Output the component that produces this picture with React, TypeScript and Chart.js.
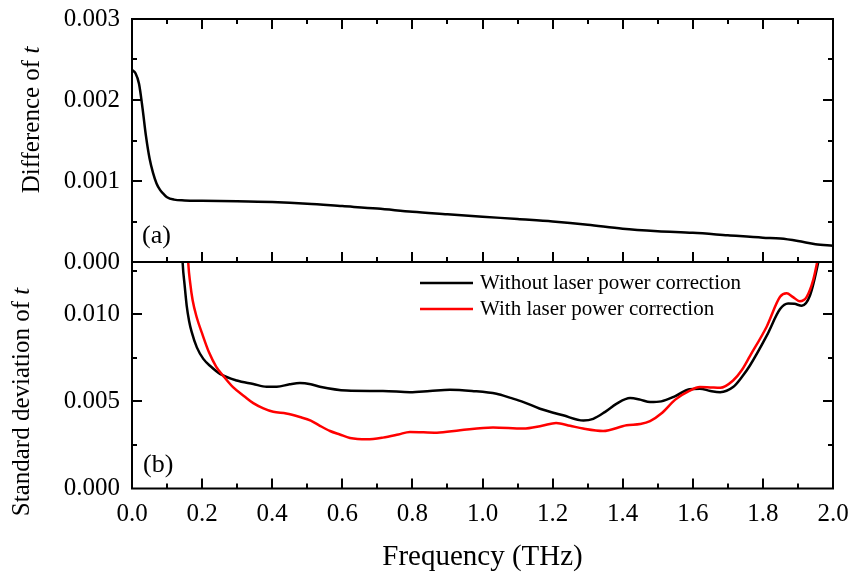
import React, { useEffect, useRef } from 'react';
import { Chart, registerables } from 'chart.js';

Chart.register(...registerables);

const FONT = '"Liberation Serif", "Times New Roman", serif';

// Panel (a): difference of t
const diffFreq = [0.0, 0.01, 0.02, 0.03, 0.04, 0.05, 0.06, 0.07, 0.08, 0.09, 0.10, 0.12, 0.15, 0.2, 0.3, 0.4, 0.5, 0.6, 0.7, 0.8, 0.9, 1.0, 1.1, 1.2, 1.3, 1.4, 1.5, 1.6, 1.7, 1.8, 1.85, 1.9, 1.95, 2.0];
const diffValues = [0.00237, 0.00233, 0.0022, 0.0019, 0.00155, 0.00128, 0.0011, 0.00097, 0.00089, 0.00084, 0.0008, 0.00077, 0.00076, 0.000755, 0.00075, 0.00074, 0.00072, 0.00069, 0.00066, 0.00062, 0.00059, 0.00056, 0.00053, 0.0005, 0.00046, 0.00041, 0.00038, 0.00036, 0.00033, 0.0003, 0.00029, 0.00026, 0.00022, 0.0002];

// Panel (b): standard deviation of t
const withoutFreq = [0.143, 0.1447, 0.15, 0.156, 0.163, 0.17, 0.185, 0.2035, 0.225, 0.251, 0.2987, 0.346, 0.384, 0.413, 0.45, 0.479, 0.51, 0.536, 0.6125, 0.679, 0.716, 0.793, 0.85, 0.907, 0.97, 1.04, 1.08, 1.117, 1.164, 1.23, 1.288, 1.316, 1.35, 1.383, 1.421, 1.45, 1.478, 1.51, 1.55, 1.59, 1.62, 1.65, 1.678, 1.715, 1.74, 1.763, 1.811, 1.849, 1.872, 1.89, 1.911, 1.934, 1.958, 1.965];
const withoutValues = [0.0138, 0.0129, 0.0117, 0.0105, 0.0096, 0.009, 0.0081, 0.00744, 0.007, 0.00658, 0.0062, 0.006, 0.00584, 0.00584, 0.00598, 0.00605, 0.00598, 0.00584, 0.00562, 0.0056, 0.0056, 0.00553, 0.0056, 0.00567, 0.0056, 0.00544, 0.0052, 0.00496, 0.00458, 0.0042, 0.0039, 0.004, 0.0044, 0.00487, 0.00519, 0.0051, 0.00496, 0.005, 0.0053, 0.0057, 0.00573, 0.0056, 0.00553, 0.00582, 0.0064, 0.00706, 0.00877, 0.0103, 0.01062, 0.0106, 0.01049, 0.01106, 0.013, 0.0138];

const withFreq = [0.158, 0.1607, 0.166, 0.173, 0.185, 0.2, 0.22, 0.24, 0.261, 0.289, 0.32, 0.346, 0.375, 0.403, 0.44, 0.479, 0.51, 0.536, 0.565, 0.593, 0.622, 0.67, 0.716, 0.76, 0.793, 0.87, 0.936, 1.03, 1.116, 1.17, 1.21, 1.25, 1.287, 1.344, 1.411, 1.45, 1.478, 1.51, 1.55, 1.59, 1.62, 1.65, 1.678, 1.715, 1.74, 1.763, 1.811, 1.849, 1.868, 1.885, 1.905, 1.925, 1.944, 1.958, 1.965];
const withValues = [0.0142, 0.0129, 0.0118, 0.0108, 0.0098, 0.0089, 0.0078, 0.007, 0.00645, 0.0058, 0.0053, 0.0049, 0.0046, 0.0044, 0.0043, 0.0041, 0.0039, 0.0036, 0.0033, 0.0031, 0.0029, 0.00282, 0.00292, 0.0031, 0.00325, 0.0032, 0.00334, 0.0035, 0.00344, 0.0036, 0.00376, 0.0036, 0.00344, 0.0033, 0.00363, 0.0037, 0.00386, 0.0043, 0.0051, 0.0056, 0.00582, 0.0058, 0.00578, 0.0062, 0.0068, 0.0076, 0.0093, 0.011, 0.0112, 0.011, 0.01075, 0.011, 0.012, 0.0133, 0.014];

// Tick labels
const xTickLabels = ['0.0', '0.2', '0.4', '0.6', '0.8', '1.0', '1.2', '1.4', '1.6', '1.8', '2.0'];
const diffTickLabels = ['0.000', '0.001', '0.002', '0.003'];
const sdTickLabels = ['0.000', '0.005', '0.010'];

const seriesNames = ['Without laser power correction', 'With laser power correction'];
const seriesColors = ['#000000', '#ff0000'];

const isMultiple = (v: number, step: number) => Math.abs(v / step - Math.round(v / step)) < 1e-6;

const framePlugin = {
  id: 'frameTicks',
  afterDatasetsDraw(chart: any) {
    const ctx = chart.ctx;
    const xs = chart.scales.x;
    const panels = [
      { s: chart.scales.yA, minor: 0.0005, major: 0.001, topTicks: true },
      { s: chart.scales.yB, minor: 0.0025, major: 0.005, topTicks: false },
    ];
    ctx.save();
    ctx.strokeStyle = '#000';
    ctx.lineWidth = 2;
    for (const p of panels) {
      const s = p.s;
      ctx.strokeRect(xs.left, s.top, xs.right - xs.left, s.bottom - s.top);
      ctx.beginPath();
      for (let k = 1; k * p.minor < s.max - 1e-9; k++) {
        const v = k * p.minor;
        const py = Math.round(s.getPixelForValue(v));
        const len = isMultiple(v, p.major) ? 10 : 5;
        ctx.moveTo(xs.left, py);
        ctx.lineTo(xs.left + len, py);
        ctx.moveTo(xs.right, py);
        ctx.lineTo(xs.right - len, py);
      }
      for (let k = 1; k < 20; k++) {
        const f = k * 0.1;
        const px = Math.round(xs.getPixelForValue(f));
        const len = isMultiple(f, 0.2) ? 10 : 5;
        ctx.moveTo(px, s.bottom);
        ctx.lineTo(px, s.bottom - len);
        if (p.topTicks) {
          ctx.moveTo(px, s.top);
          ctx.lineTo(px, s.top + len);
        }
      }
      ctx.stroke();
    }
    ctx.restore();
  },
  afterDraw(chart: any) {
    const ctx = chart.ctx;
    const xs = chart.scales.x;
    const yA = chart.scales.yA;
    const yB = chart.scales.yB;
    const left = xs.left;
    ctx.save();
    ctx.fillStyle = '#000';

    const drawVertical = (cx: number, cy: number, main: string, ital: string, size: number) => {
      ctx.save();
      ctx.translate(cx, cy);
      ctx.rotate(-Math.PI / 2);
      ctx.textBaseline = 'middle';
      ctx.textAlign = 'left';
      ctx.font = `${size}px ${FONT}`;
      const w1 = ctx.measureText(main).width;
      ctx.font = `italic ${size}px ${FONT}`;
      const w2 = ctx.measureText(ital).width;
      const start = -(w1 + w2) / 2;
      ctx.font = `${size}px ${FONT}`;
      ctx.fillText(main, start, 0);
      ctx.font = `italic ${size}px ${FONT}`;
      ctx.fillText(ital, start + w1, 0);
      ctx.restore();
    };
    drawVertical(left - 100, yA.top + 101, 'Difference of ', 't', 25);
    drawVertical(left - 110, yB.top + 140, 'Standard deviation of ', 't', 25);

    // x title
    ctx.font = `29px ${FONT}`;
    ctx.textAlign = 'center';
    ctx.textBaseline = 'middle';
    ctx.fillText('Frequency (THz)', (xs.left + xs.right) / 2, yB.bottom + 69);

    // panel labels
    ctx.font = `26px ${FONT}`;
    ctx.textAlign = 'left';
    ctx.fillText('(a)', left + 10, yA.bottom - 26);
    ctx.fillText('(b)', left + 11, yB.bottom - 23);

    // legend
    ctx.font = `21px ${FONT}`;
    ctx.lineWidth = 2.5;
    seriesNames.forEach((name, i) => {
      const ly = yB.top + 21 + i * 26;
      ctx.strokeStyle = seriesColors[i];
      ctx.beginPath();
      ctx.moveTo(left + 288, ly);
      ctx.lineTo(left + 341, ly);
      ctx.stroke();
      ctx.fillText(name, left + 348, ly);
    });
    ctx.restore();
  },
};

const fitY = (s: any) => {
  s.width = 132;
  s.paddingTop = 0;
  s.paddingBottom = 0;
};

export default function App() {
  const ref = useRef<HTMLCanvasElement>(null);
  useEffect(() => {
    if (!ref.current) return;
    const chart = new Chart(ref.current, {
      type: 'line',
      data: {
        datasets: [
          {
            label: 'Difference of t',
            data: diffFreq.map((f, i) => ({ x: f, y: diffValues[i] })),
            yAxisID: 'yA',
            borderColor: '#000',
            borderWidth: 2.5,
            pointRadius: 0,
            cubicInterpolationMode: 'monotone',
          },
          {
            label: seriesNames[1],
            data: withFreq.map((f, i) => ({ x: f, y: withValues[i] })),
            yAxisID: 'yB',
            borderColor: seriesColors[1],
            borderWidth: 2.5,
            pointRadius: 0,
            cubicInterpolationMode: 'monotone',
          },
          {
            label: seriesNames[0],
            data: withoutFreq.map((f, i) => ({ x: f, y: withoutValues[i] })),
            yAxisID: 'yB',
            borderColor: seriesColors[0],
            borderWidth: 2.5,
            pointRadius: 0,
            cubicInterpolationMode: 'monotone',
          },
        ],
      } as any,
      options: {
        animation: false,
        responsive: false,
        devicePixelRatio: 1,
        layout: { padding: { top: 19, right: 20, left: 0, bottom: 0 } },
        plugins: { legend: { display: false }, tooltip: { enabled: false } },
        scales: {
          x: {
            type: 'linear',
            min: 0,
            max: 2,
            grid: { display: false, drawTicks: false },
            border: { display: false },
            ticks: {
              stepSize: 0.2,
              padding: 11,
              color: '#000',
              font: { family: FONT, size: 25 },
              maxRotation: 0,
              callback: (_v: any, i: number) => xTickLabels[i] ?? '',
            },
            afterFit: (s: any) => {
              s.height = 92.5;
              s.paddingLeft = 0;
              s.paddingRight = 0;
            },
          },
          yB: {
            type: 'linear',
            position: 'left',
            stack: 'panels',
            stackWeight: 226.5,
            min: 0,
            max: 0.013,
            grid: { display: false, drawTicks: false },
            border: { display: false },
            ticks: {
              stepSize: 0.005,
              padding: 12,
              color: '#000',
              autoSkip: false,
              font: { family: FONT, size: 25 },
              callback: (_v: any, i: number) => sdTickLabels[i] ?? '',
            },
            afterFit: fitY,
          },
          yA: {
            type: 'linear',
            position: 'left',
            stack: 'panels',
            stackWeight: 243,
            min: 0,
            max: 0.003,
            grid: { display: false, drawTicks: false },
            border: { display: false },
            ticks: {
              stepSize: 0.001,
              padding: 12,
              color: '#000',
              autoSkip: false,
              font: { family: FONT, size: 25 },
              callback: (_v: any, i: number) => diffTickLabels[i] ?? '',
            },
            afterFit: fitY,
          },
        },
      } as any,
      plugins: [framePlugin],
    });
    return () => chart.destroy();
  }, []);
  return (
    <div style={{ position: 'fixed', left: 0, top: 0, width: 853, height: 581, background: '#fff' }}>
      <canvas ref={ref} width={853} height={581} style={{ width: 853, height: 581, display: 'block' }} />
    </div>
  );
}
